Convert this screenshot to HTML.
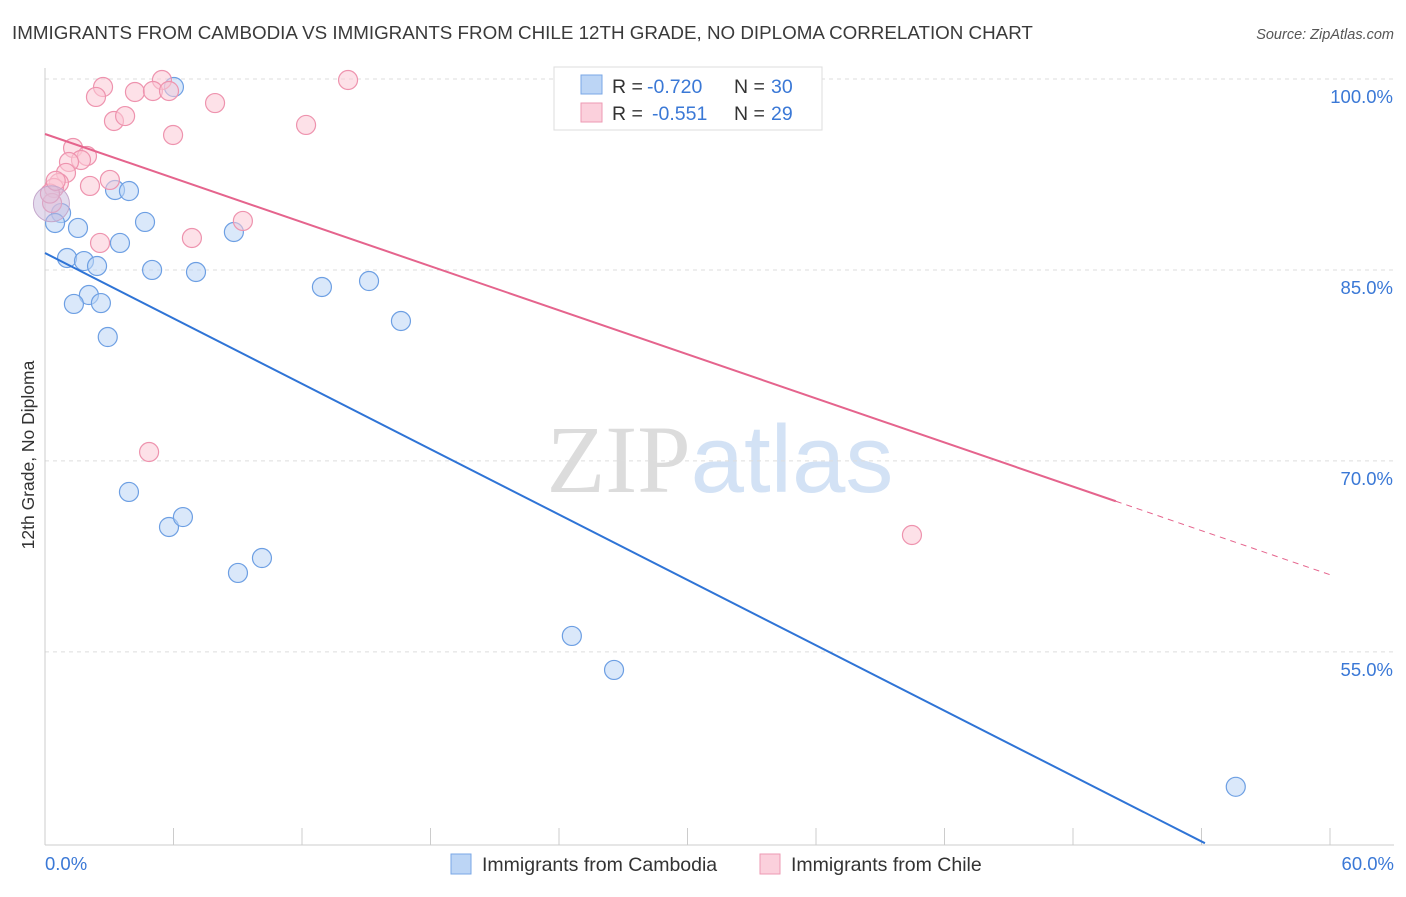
<!DOCTYPE html>
<html><head><meta charset="utf-8"><style>
body{margin:0;background:#fff;font-family:"Liberation Sans",sans-serif;}
svg text{font-family:"Liberation Sans",sans-serif;}
</style></head><body>
<svg id="chart" width="1406" height="892" viewBox="0 0 1406 892" xmlns="http://www.w3.org/2000/svg">
<text x="12" y="39" font-size="18.8" fill="#3a3a3a">IMMIGRANTS FROM CAMBODIA VS IMMIGRANTS FROM CHILE 12TH GRADE, NO DIPLOMA CORRELATION CHART</text>
<text x="1394" y="39" font-size="14.5" fill="#555" text-anchor="end" font-style="italic">Source: ZipAtlas.com</text>
<text x="720" y="492" font-size="96" text-anchor="middle"><tspan fill="#dcdcdc" font-family="Liberation Serif">ZIP</tspan><tspan fill="#d3e2f5">atlas</tspan></text>
<g id="grid"></g>
<g id="axes"></g>
<text transform="translate(34,455) rotate(-90)" font-size="17.5" fill="#333" text-anchor="middle">12th Grade, No Diploma</text>
<g id="marks"></g>
<g id="lines"></g>
<g>
<rect x="554" y="67" width="268" height="63" fill="#fff" stroke="#ddd"/>
<rect x="581" y="75" width="21" height="19" fill="#bcd5f5" stroke="#7aa7e6"/>
<rect x="581" y="103" width="21" height="19" fill="#fbd0dc" stroke="#ee9ab3"/>
<text x="612" y="93" font-size="19.5" fill="#333">R = </text>
<text x="647" y="93" font-size="19.5" fill="#3a78d6">-0.720</text>
<text x="734" y="93" font-size="19.5" fill="#333">N = </text>
<text x="771" y="93" font-size="19.5" fill="#3a78d6">30</text>
<text x="612" y="120" font-size="19.5" fill="#333">R = </text>
<text x="652" y="120" font-size="19.5" fill="#3a78d6">-0.551</text>
<text x="734" y="120" font-size="19.5" fill="#333">N = </text>
<text x="771" y="120" font-size="19.5" fill="#3a78d6">29</text>
</g>
<g>
<rect x="451" y="854" width="20" height="20" fill="#bcd5f5" stroke="#7aa7e6"/>
<text x="482" y="871" font-size="19.5" fill="#333">Immigrants from Cambodia</text>
<rect x="760" y="854" width="20" height="20" fill="#fbd0dc" stroke="#ee9ab3"/>
<text x="791" y="871" font-size="19.5" fill="#333">Immigrants from Chile</text>
</g>
</svg>
<script>
const yTicks=[100,85,70,55];
const xTickLabels=["0.0%","60.0%"];
const blueX=[6.02,3.27,3.92,0.75,0.47,1.54,4.67,8.82,3.5,1.03,1.82,2.43,5.0,7.05,12.93,15.13,2.05,1.35,2.61,16.62,2.93,3.92,5.79,6.44,9.01,10.13,24.6,26.57,55.6,0.2];
const blueY=[99.37,91.28,91.2,89.47,88.69,88.3,88.77,87.98,87.12,85.94,85.7,85.31,85.0,84.84,83.66,84.13,83.03,82.33,82.4,80.99,79.73,67.56,64.81,65.59,61.2,62.37,56.25,53.58,44.4,90.1];
const pinkX=[5.46,14.15,2.71,2.38,4.2,5.04,5.79,7.94,3.22,3.74,5.98,12.19,1.31,1.96,1.68,1.12,0.98,3.03,0.65,0.42,2.1,0.33,9.24,6.86,2.57,4.86,40.48,0.23,0.5];
const pinkY=[99.92,99.92,99.37,98.59,98.98,99.06,99.06,98.11,96.7,97.09,95.6,96.39,94.58,93.95,93.64,93.48,92.62,92.07,91.83,91.44,91.6,90.26,88.85,87.51,87.12,70.7,64.18,91.0,92.0];
const blueTrend=[86.33,-0.856];
const pinkTrend=[95.68,-0.577];
const NS="http://www.w3.org/2000/svg";
const X=v=>45+v/60*1285, Y=v=>79+(100-v)*12.73;
function mk(tag,attrs,parent){const e=document.createElementNS(NS,tag);for(const k in attrs)e.setAttribute(k,attrs[k]);parent.appendChild(e);return e;}
const grid=document.getElementById('grid'),axes=document.getElementById('axes'),marks=document.getElementById('marks'),lines=document.getElementById('lines');
yTicks.forEach(t=>{
 const l=mk('line',{x1:45,x2:1394,y1:Y(t),y2:Y(t),stroke:'#ddd','stroke-dasharray':'4,4'},grid);
 
 
 const tx=mk('text',{x:1393,y:Y(t)+24,'font-size':18.5,fill:'#3a78d6','text-anchor':'end'},grid);
 tx.textContent=t.toFixed(1)+'%';
 
 
});
const ya=mk('line',{x1:45,x2:45,y1:68,y2:845,stroke:'#ccc'},axes);


const xa=mk('line',{x1:45,x2:1394,y1:845,y2:845,stroke:'#ccc'},axes);


for(let i=1;i<=10;i++){const t=mk('line',{x1:X(i*6),x2:X(i*6),y1:828,y2:845,stroke:'#ccc'},axes);
 
 }
[[0,'start',45],[60,'end',1394]].forEach((d,i)=>{const t=mk('text',{x:d[2],y:870,'font-size':18.5,fill:'#3a78d6','text-anchor':d[1]},axes);t.textContent=xTickLabels[i];
 
 });
function dots(xs,ys,fill,stroke,name){xs.forEach((x,i)=>{const c=mk('circle',{cx:X(x),cy:Y(ys[i]),r:(i===xs.length-1&&name==='cambodia-point')?0:9.5,fill:fill,'fill-opacity':0.55,stroke:stroke,'stroke-width':1.2},marks);
 
 });}
dots(blueX,blueY,'#bcd5f5','#6d9fe3','cambodia-point');
dots(pinkX,pinkY,'#fbc8d6','#ee93ae','chile-point');
const big=mk('circle',{cx:X(0.3),cy:Y(90.2),r:18,fill:'#c8b8dc','fill-opacity':0.5,stroke:'#c5a8cc'},marks);


const bl=mk('line',{x1:X(0),y1:Y(blueTrend[0]),x2:X(54.16),y2:Y(blueTrend[0]+blueTrend[1]*54.16),stroke:'#2f74d6','stroke-width':2},lines);


const pl=mk('line',{x1:X(0),y1:Y(pinkTrend[0]),x2:X(50),y2:Y(pinkTrend[0]+pinkTrend[1]*50),stroke:'#e5648d','stroke-width':2},lines);


const pd=mk('line',{x1:X(50),y1:Y(pinkTrend[0]+pinkTrend[1]*50),x2:X(60),y2:Y(pinkTrend[0]+pinkTrend[1]*60),stroke:'#e5648d','stroke-width':1,'stroke-dasharray':'6,5'},lines);


</script>
</body></html>
